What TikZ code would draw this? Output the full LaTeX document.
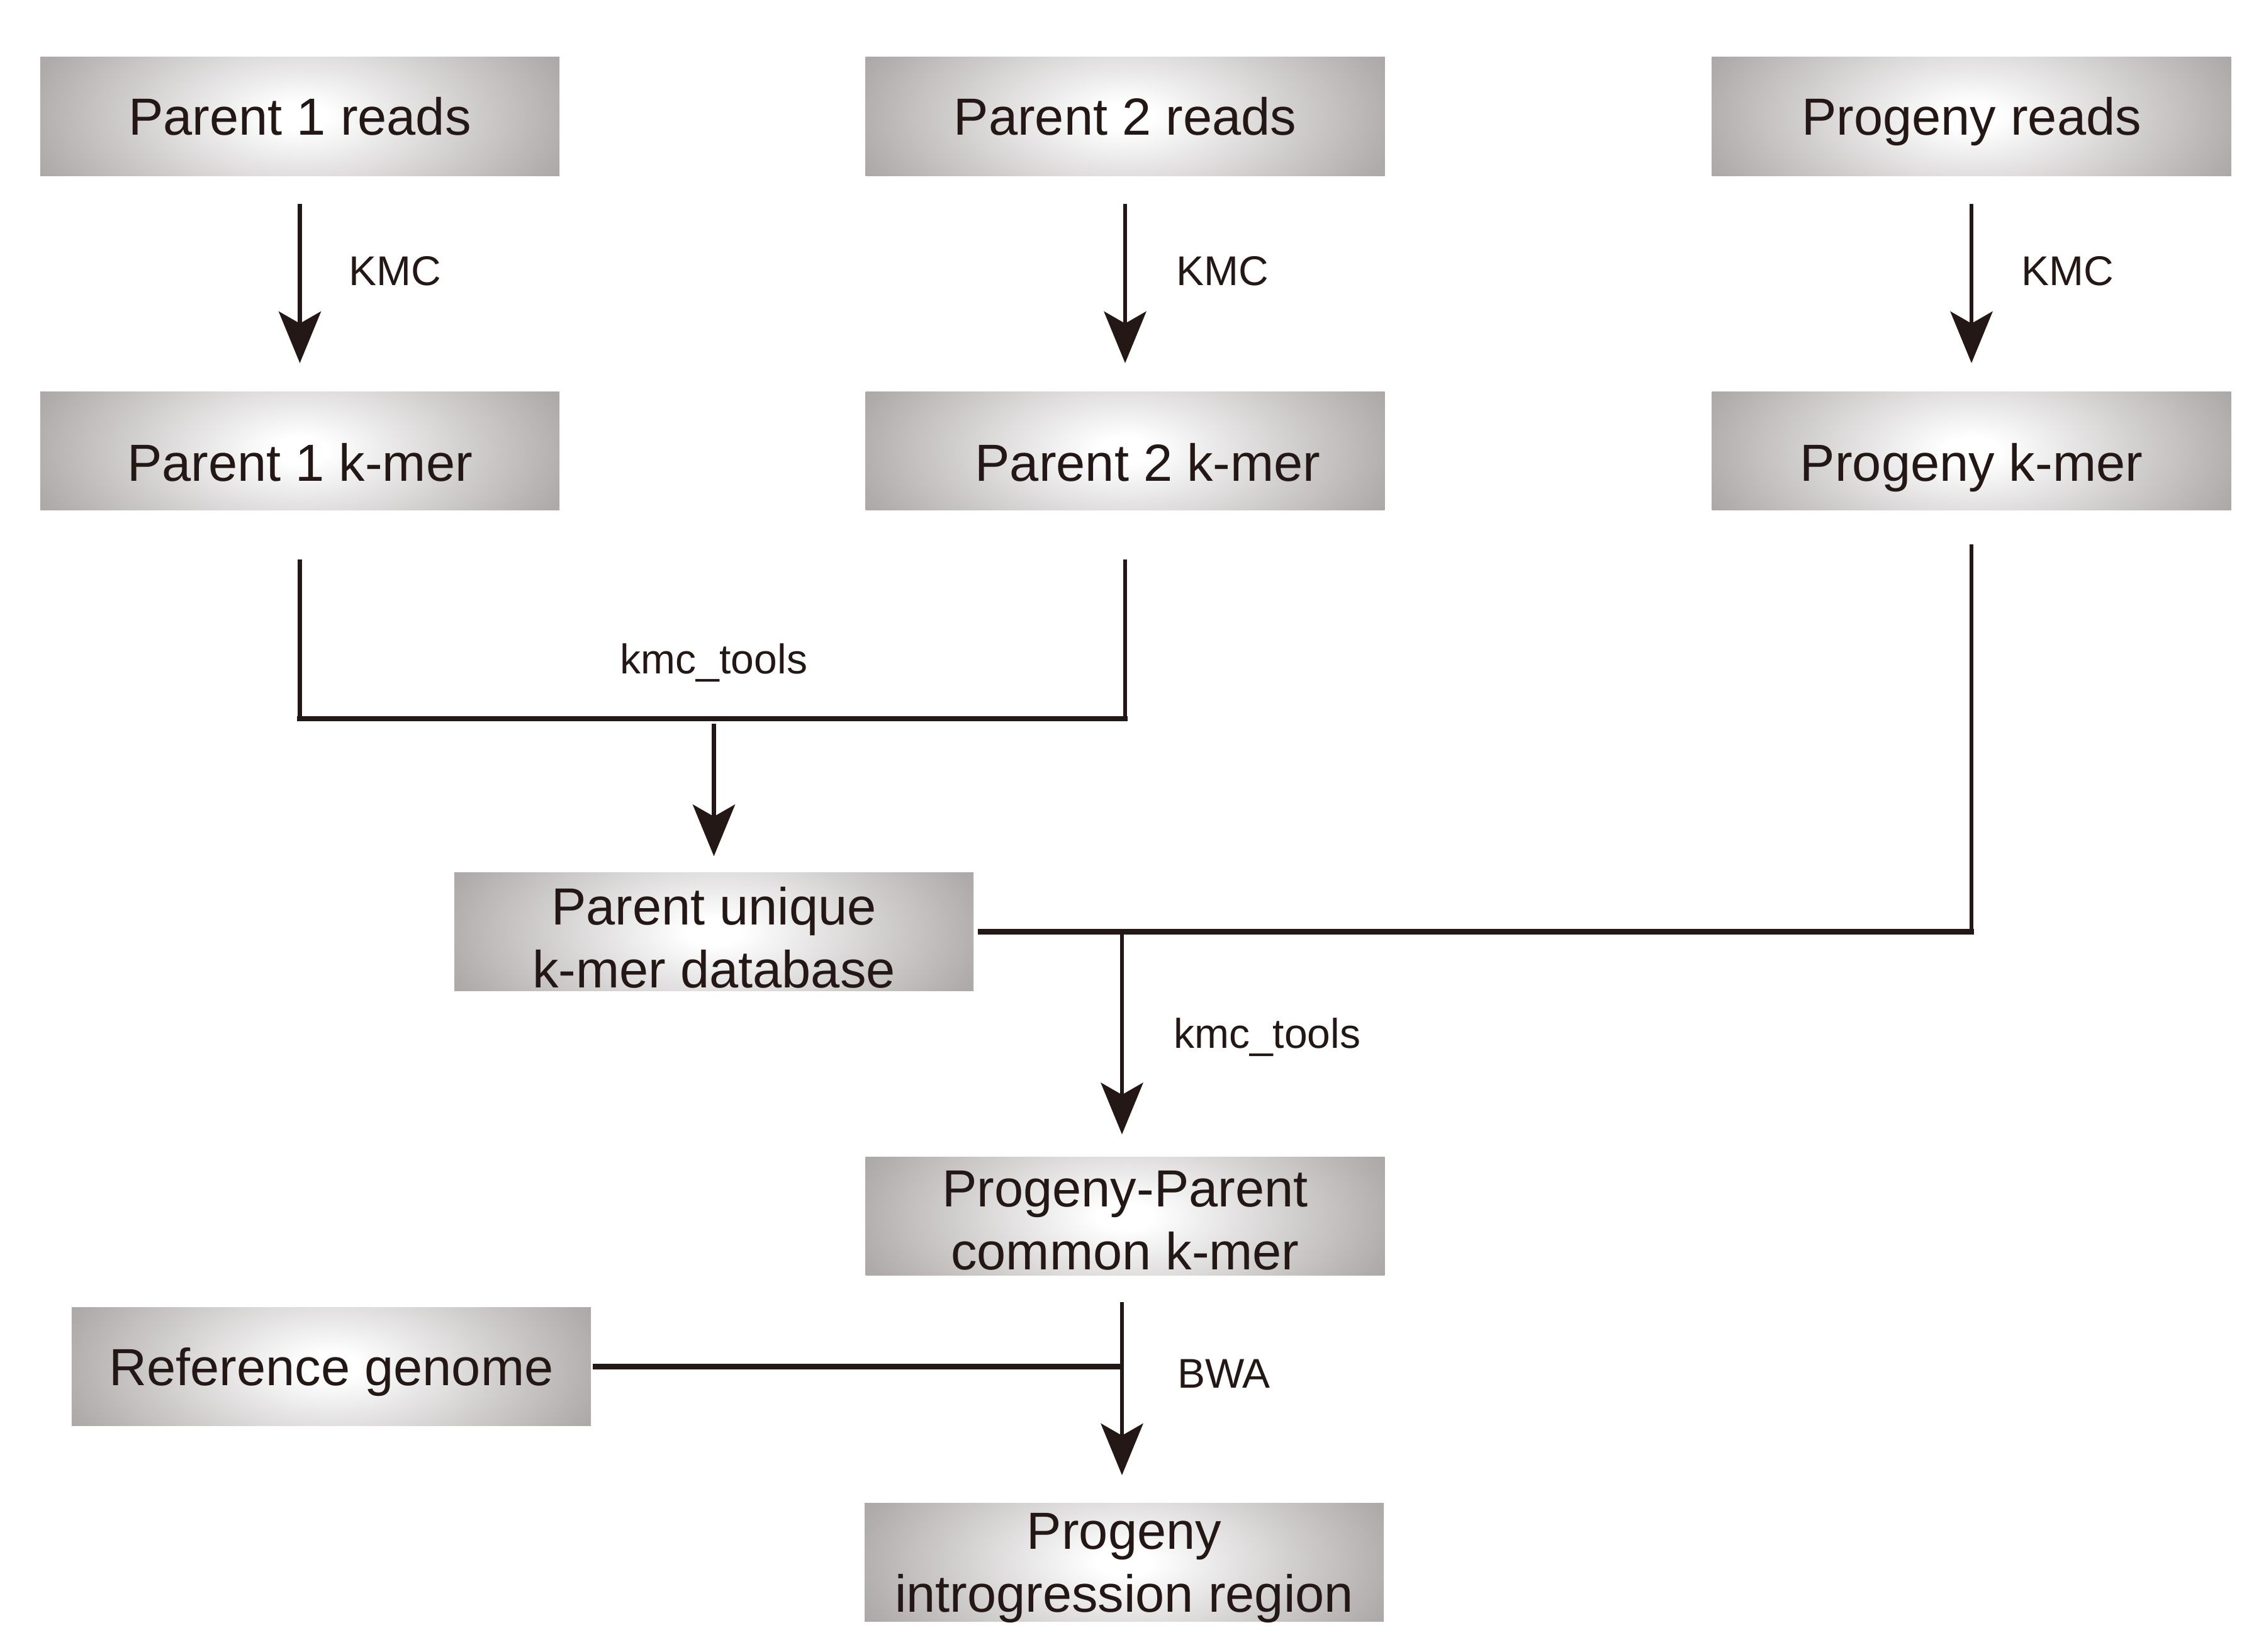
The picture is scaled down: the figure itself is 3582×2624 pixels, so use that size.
\documentclass[tikz,border=0pt]{standalone}
\usepackage{fontspec}
\setmainfont{Liberation Sans}
\usetikzlibrary{arrows.meta,calc}
\definecolor{ink}{HTML}{231815}
\definecolor{edgegray}{HTML}{B0ACAB}
\definecolor{cornergray}{HTML}{A5A1A0}
\pgfdeclareradialshading{boxshade}{\pgfpoint{0bp}{0bp}}{color(0bp)=(white); color(1.25bp)=(white); color(12.5bp)=(edgegray); color(14.5bp)=(cornergray); color(50bp)=(cornergray)}
\begin{document}
\begin{tikzpicture}[x=0.2pt,y=-0.2pt,
  boxbase/.style={minimum width=165pt, minimum height=37.6pt, inner sep=0pt, text=ink,
    font=\fontsize{16.6}{20}\selectfont, align=center,
    path picture={\shade[shading=boxshade] (path picture bounding box.center) ellipse [x radius=172pt, y radius=84pt];}},
  boxone/.style={boxbase, text height=11.9pt, text depth=0pt},
  boxtwo/.style={boxbase, text height=31.9pt, text depth=0pt},
  lab/.style={anchor=base west, inner sep=0pt, text=ink, font=\fontsize{13.2}{15}\selectfont},
  vl/.style={draw=ink, line width=1.35pt},
  hl/.style={draw=ink, line width=1.7pt},
  arr/.style={vl, -{Stealth[length=16.4pt, width=13.4pt, inset=3.8pt]}}]
\useasboundingbox (0,0) rectangle (3582,2624);

% boxes
\node[boxone] (p1r) at (476.5,185) {Parent 1 reads};
\node[boxone] (p2r) at (1788,185) {Parent 2 reads};
\node[boxone] (pgr) at (3133,185) {Progeny reads};
\node[boxone, text height=19.5pt] (p1k) at (476.5,716) {Parent 1 k-mer};
\node[boxone, text height=19.5pt] (p2k) at (1788,716) {\hspace*{14.4pt}Parent 2 k-mer};
\node[boxone, text height=19.5pt] (pgk) at (3133,716) {Progeny k-mer};
\node[boxtwo, text height=35.5pt] (pu) at (1134.5,1480.5) {Parent unique\\k-mer database};
\node[boxtwo, text height=33.9pt] (pp) at (1788,1932.5) {Progeny-Parent\\common k-mer};
\node[boxone] (ref) at (526.5,2171.5) {Reference genome};
\node[boxtwo] (pir) at (1786.5,2482) {Progeny\\introgression region};

% KMC arrows
\draw[arr, shorten <=8.8pt, shorten >=8.8pt] (p1r.south) -- (p1k.north);
\draw[arr, shorten <=8.8pt, shorten >=8.8pt] (p2r.south) -- (p2k.north);
\draw[arr, shorten <=8.8pt, shorten >=8.8pt] (pgr.south) -- (pgk.north);
\node[lab] (kmc1) at (553,453) {KMC};
\node[lab] (kmc2) at (1868,453) {KMC};
\node[lab] (kmc3) at (3211,453) {KMC};

% bracket parents
\coordinate (bM) at (1134.5,1142);
\draw[vl, shorten <=15.6pt] (p1k.south) -- (p1k.south |- bM);
\draw[vl, shorten <=15.6pt] (p2k.south) -- (p2k.south |- bM);
\draw[hl, line cap=rect] (p1k.south |- bM) -- (p2k.south |- bM);
\node[anchor=base, inner sep=0pt, text=ink, font=\fontsize{13.2}{15}\selectfont] (kt1) at (1134.5,1070) {kmc\_tools};
\draw[arr, shorten <=1.6pt, shorten >=5pt] (bM) -- (pu.north);

% progeny line
\draw[vl, shorten <=10.8pt] (pgk.south) -- (pgk.south |- pu.east);
\draw[hl, line cap=rect] (pgk.south |- pu.east) -- ([xshift=2pt]pu.east);
\coordinate (jm) at (1783,1480.5);
\draw[arr, shorten >=7pt] (jm) -- (jm |- pp.north);
\node[lab] (kt2) at (1864,1665) {kmc\_tools};

% BWA
\draw[arr, shorten <=8.3pt, shorten >=8.6pt] (pp.south -| jm) -- (pir.north -| jm);
\draw[hl] ([xshift=0.4pt]ref.east) -- (ref.east -| jm);
\node[lab] (bwa) at (1870,2205) {BWA};
\end{tikzpicture}
\end{document}
